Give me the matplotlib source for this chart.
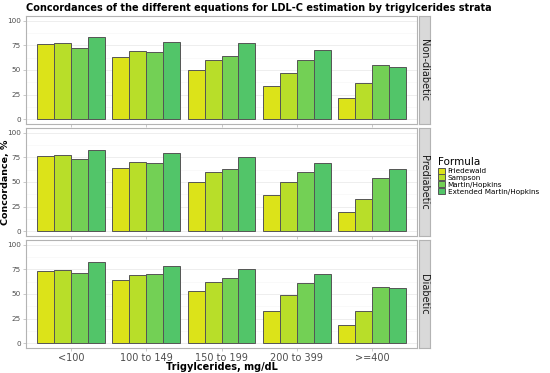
import matplotlib
matplotlib.use("Agg")
import matplotlib.pyplot as plt
import numpy as np

categories = ["<100", "100 to 149", "150 to 199", "200 to 399", ">=400"]
formulas = ["Friedewald", "Sampson", "Martin/Hopkins", "Extended Martin/Hopkins"]
colors = ["#DCE319", "#B8DE29", "#73D055", "#52C569"]
strata = ["Non-diabetic", "Prediabetic", "Diabetic"]

non_diabetic = {
    "Friedewald": [76, 63, 50, 34, 21],
    "Sampson": [77, 69, 60, 47, 37],
    "Martin/Hopkins": [72, 68, 64, 60, 55],
    "Extended Martin/Hopkins": [84, 79, 77, 70, 53],
}
prediabetic = {
    "Friedewald": [76, 64, 50, 37, 19],
    "Sampson": [77, 70, 60, 50, 33],
    "Martin/Hopkins": [73, 69, 63, 60, 54],
    "Extended Martin/Hopkins": [83, 80, 75, 69, 63],
}
diabetic = {
    "Friedewald": [73, 64, 53, 33, 18],
    "Sampson": [74, 69, 62, 49, 33],
    "Martin/Hopkins": [71, 70, 66, 61, 57],
    "Extended Martin/Hopkins": [83, 79, 75, 70, 56],
}
data = [non_diabetic, prediabetic, diabetic]
yticks = [0, 25, 50, 75, 100]

W, H = 550, 373
fig = plt.figure(figsize=(5.5, 3.73), dpi=100)
fig.patch.set_facecolor("white")

left, right = 26 / W, 417 / W
tops = [16, 128, 240]
ph = 108
x = np.arange(len(categories))
bw = 0.9 / 4
axes = []
for i, (name, d) in enumerate(zip(strata, data)):
    ax = fig.add_axes([left, 1 - (tops[i] + ph) / H, right - left, ph / H])
    axes.append(ax)
    ax.set_xlim(-0.6, len(categories) - 0.4)
    ax.set_ylim(-5, 105)
    for m in [12.5, 37.5, 62.5, 87.5]:
        ax.axhline(m, color="#f5f5f5", lw=0.4, zorder=0)
    for t in yticks:
        ax.axhline(t, color="#ebebeb", lw=0.6, zorder=0)
    for j, f in enumerate(formulas):
        ax.bar(x - 0.45 + bw * (j + 0.5), d[f], width=bw, color=colors[j],
               edgecolor="#555555", linewidth=0.7, zorder=2, label=f)
    ax.set_yticks(yticks)
    ax.set_yticklabels([str(t) for t in yticks], fontsize=5.2, color="#4d4d4d")
    ax.set_xticks(x)
    if i == 2:
        ax.set_xticklabels(categories, fontsize=7, color="#4d4d4d")
    else:
        ax.set_xticklabels([])
    ax.tick_params(axis="both", length=2, width=0.5, color="#b3b3b3", pad=1.5)
    for s in ax.spines.values():
        s.set_color("#b3b3b3")
        s.set_linewidth(0.8)
    # strip
    sax = fig.add_axes([418.5 / W, 1 - (tops[i] + ph) / H, 11.5 / W, ph / H])
    sax.set_facecolor("#d9d9d9")
    sax.set_xticks([])
    sax.set_yticks([])
    for s in sax.spines.values():
        s.set_color("#b3b3b3")
        s.set_linewidth(0.8)
    sax.text(0.5, 0.5, name, rotation=-90, ha="center", va="center",
             fontsize=7, color="#1a1a1a", transform=sax.transAxes)

fig.text(26 / W, 1 - 8 / H, "Concordances of the different equations for LDL-C estimation by trigylcerides strata",
         fontsize=7, fontweight="bold", ha="left", va="center")
fig.text(6 / W, 1 - 182 / H, "Concordance, %", rotation=90, fontsize=6.8,
         fontweight="bold", ha="center", va="center")
fig.text(222 / W, 1 - 367 / H, "Trigylcerides, mg/dL", fontsize=7,
         fontweight="bold", ha="center", va="center")

handles, labels = axes[0].get_legend_handles_labels()
leg = fig.legend(handles, labels, title="Formula", loc="upper left",
                 bbox_to_anchor=(436 / W, 1 - 155 / H), frameon=False,
                 fontsize=5.2, title_fontsize=7.5, handlelength=0.9,
                 handleheight=0.9, handletextpad=0.4, labelspacing=0.05,
                 borderaxespad=0, borderpad=0.3)
leg._legend_box.align = "left"

fig.savefig("out.png", dpi=100, facecolor="white")
